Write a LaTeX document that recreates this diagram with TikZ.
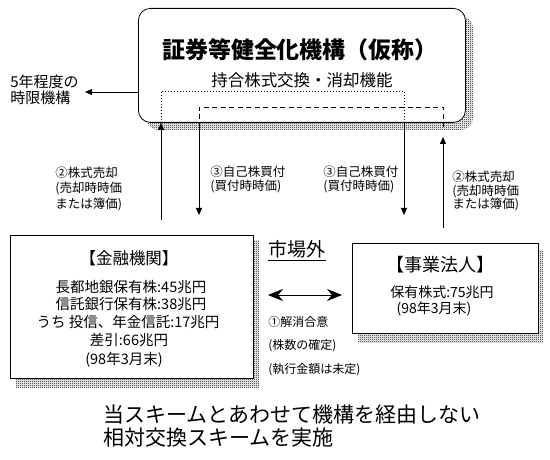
\documentclass[tikz,border=0pt]{standalone}
\usepackage{fontspec}
\setmainfont{Noto Sans CJK JP}
\usetikzlibrary{arrows.meta,patterns}
\pgfdeclarepatternformonly{checker}{\pgfpointorigin}{\pgfpoint{2pt}{2pt}}{\pgfpoint{2pt}{2pt}}{%
  \pgfpathrectangle{\pgfpointorigin}{\pgfpoint{1pt}{1pt}}%
  \pgfpathrectangle{\pgfpoint{1pt}{1pt}}{\pgfpoint{1pt}{1pt}}%
  \pgfusepath{fill}%
}
\begin{document}
\begin{tikzpicture}[x=1pt,y=-1pt,line width=0.8pt,
  arr/.style={-{Triangle[length=7pt,width=6pt]}},
  shadowfill/.style={pattern=checker,pattern color=black,draw=none},
  boxnode/.style={draw,fill=white,anchor=north west,inner sep=0pt},
  lbl/.style={inner sep=0pt,anchor=west},
  ctr/.style={inner sep=0pt},
  dotline/.style={dash pattern=on 0.8pt off 2.2pt},
  dashline/.style={dash pattern=on 5pt off 3.5pt},
  fs/.style={font=\fontsize{#1}{#1}\selectfont}
]
\path[use as bounding box,fill=white] (0,0) rectangle (550,460);

% shadows
\path[shadowfill,rounded corners=12pt] (146,16) rectangle (473,130);
\path[shadowfill] (16,241) rectangle (259,387);
\path[shadowfill] (358,250) rectangle (543,342);

% top organisation box
\node[boxnode,rounded corners=12pt,minimum width=327pt,minimum height=114pt] (org) at (138,8) {};
\node[ctr,font=\fontsize{23}{25}\selectfont\bfseries] (title) at (300,50) {証券等健全化機構（仮称）};
\node[ctr,fs=16.5] (sub) at (302,80) {持合株式交換・消却機能};

% coordinates for the connectors
\coordinate (lim) at (85,92);
\coordinate (aL) at (161,220);
\coordinate (aB) at (199,215);
\coordinate (aC) at (404,215);
\coordinate (aR) at (443,228);
\coordinate (dotTL) at (161,91);
\coordinate (dotTR) at (404,91);
\coordinate (dashTL) at (199,107);
\coordinate (dashTR) at (443,107);

% dotted and dashed paths inside the box
\draw[dotline] (aL |- org.south) -- (dotTL) -- (dotTR) -- (aC |- org.south);
\draw[dashline] (199,128) -- (dashTL) -- (dashTR) -- (443,130);

% vertical arrows
\draw[arr] (aL) -- (aL |- org.south);
\draw[arr] (199,128) -- (aB);
\draw[arr] (aC |- org.south) -- (aC);
\draw[arr] (aR) -- (443,137);

% left arrow to time-limited body
\draw[arr] (org.west |- lim) -- (lim);
\node[lbl,fs=15] (lim1) at (10,82) {5年程度の};
\node[lbl,fs=15] (lim2) at (10,98) {時限機構};

% arrow labels
\node[lbl,fs=12.5] (l1a) at (55,173) {②株式売却};
\node[lbl,fs=12.5] (l1b) at (55,188) {(売却時時価};
\node[lbl,fs=12.5] (l1c) at (55,204) {または簿価)};

\node[lbl,fs=12.5] (l2a) at (210,172) {③自己株買付};
\node[lbl,fs=12.5] (l2b) at (210,186) {(買付時時価)};

\node[lbl,fs=12.5] (l3a) at (323,172) {③自己株買付};
\node[lbl,fs=12.5] (l3b) at (323,186) {(買付時時価)};

\node[lbl,fs=12.5] (l4a) at (452,177) {②株式売却};
\node[lbl,fs=12.5] (l4b) at (452,191) {(売却時時価};
\node[lbl,fs=12.5] (l4c) at (452,204) {または簿価)};

% financial institutions box
\node[boxnode,minimum width=243pt,minimum height=143pt] (fin) at (10,235) {};
\node[ctr,fs=16.5] (finh) at (129,258) {【金融機関】};
\node[ctr,fs=14.5] (fin1) at (131,287) {長都地銀保有株:45兆円};
\node[ctr,fs=14.5] (fin2) at (131,304) {信託銀行保有株:38兆円};
\node[ctr,fs=14.5] (fin3) at (128,322) {うち 投信、年金信託:17兆円};
\node[ctr,fs=14.5] (fin4) at (129,340) {差引:66兆円};
\node[ctr,fs=14.5] (fin5) at (124,360) {(98年3月末)};

% business corporations box
\node[boxnode,minimum width=186pt,minimum height=90pt] (biz) at (352,243) {};
\node[ctr,fs=18] (bizh) at (440,265) {【事業法人】};
\node[ctr,fs=14] (biz1) at (442,292) {保有株式:75兆円};
\node[ctr,fs=14] (biz2) at (434,309) {(98年3月末)};

% off-market
\node[inner sep=0pt,anchor=base west,fs=19] (mkt) at (268,257) {市場外};
\draw ([yshift=-3pt]mkt.base west) -- ([yshift=-3pt]mkt.base east);
\coordinate (dl) at (268,295);
\coordinate (dr) at (342,295);
\draw[{Stealth[length=15pt,width=12pt]}-{Stealth[length=15pt,width=12pt]}] (dl) -- (dr);
\node[lbl,fs=12] (m1) at (268,322) {①解消合意};
\node[lbl,fs=12] (m2) at (268,346) {(株数の確定)};
\node[lbl,fs=12] (m3) at (268,370) {(執行金額は未定)};

% bottom note
\node[lbl,fs=21] (n1) at (103,415) {当スキームとあわせて機構を経由しない};
\node[lbl,fs=21] (n2) at (103,438) {相対交換スキームを実施};
\end{tikzpicture}
\end{document}
